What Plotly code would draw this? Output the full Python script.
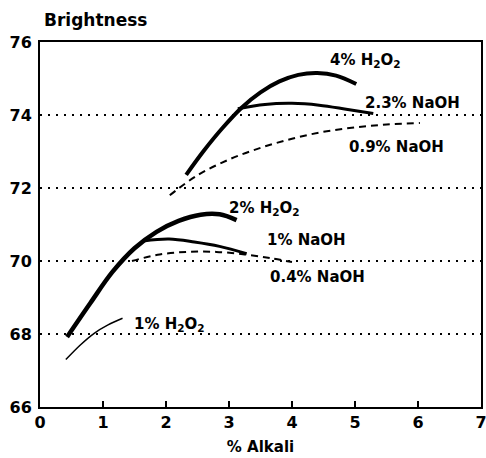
import plotly.graph_objects as go

# ---- data ----
h2o2_4_x = [2.32, 2.6, 2.9, 3.2, 3.5, 3.8, 4.1, 4.4, 4.7, 5.02]
h2o2_4_y = [72.36, 73.02, 73.65, 74.2, 74.62, 74.92, 75.1, 75.15, 75.08, 74.85]

naoh_23_x = [3.14, 3.57, 4.0, 4.43, 4.86, 5.29]
naoh_23_y = [74.17, 74.29, 74.32, 74.27, 74.16, 74.04]

naoh_09_x = [2.06, 2.5, 3.0, 3.5, 4.0, 4.5, 5.0, 5.5, 6.03]
naoh_09_y = [71.8, 72.35, 72.78, 73.1, 73.35, 73.54, 73.66, 73.74, 73.78]

h2o2_2_x = [0.43, 0.8, 1.15, 1.5, 1.85, 2.2, 2.55, 2.85, 3.12]
h2o2_2_y = [67.92, 68.85, 69.7, 70.35, 70.8, 71.1, 71.27, 71.28, 71.12]

naoh_1_x = [1.64, 2.05, 2.45, 2.85, 3.28]
naoh_1_y = [70.55, 70.6, 70.52, 70.4, 70.2]

naoh_04_x = [1.46, 1.9, 2.35, 2.8, 3.25, 3.65, 4.0]
naoh_04_y = [70.0, 70.18, 70.25, 70.25, 70.18, 70.08, 69.97]

h2o2_1_x = [0.41, 0.64, 0.86, 1.08, 1.31]
h2o2_1_y = [67.3, 67.7, 68.02, 68.25, 68.43]

label_text = ["4% H<sub>2</sub>O<sub>2</sub>", "2.3% NaOH", "0.9% NaOH",
              "2% H<sub>2</sub>O<sub>2</sub>", "1% NaOH", "0.4% NaOH",
              "1% H<sub>2</sub>O<sub>2</sub>"]
label_x = [4.57, 5.13, 4.87, 2.97, 3.57, 3.62, 1.46]
label_y = [75.5, 74.33, 73.12, 71.45, 70.58, 69.56, 68.25]

x_ticks = [0, 1, 2, 3, 4, 5, 6, 7]
y_ticks = [66, 68, 70, 72, 74, 76]

FONT = "DejaVu Sans"

fig = go.Figure()

def add(x, y, width, dash="solid"):
    fig.add_trace(go.Scatter(x=x, y=y, mode="lines",
                             line=dict(color="black", width=width, dash=dash,
                                       shape="spline", smoothing=1.0),
                             showlegend=False, hoverinfo="skip"))

add(h2o2_4_x, h2o2_4_y, 4)
add(naoh_23_x, naoh_23_y, 3)
add(naoh_09_x, naoh_09_y, 2, "7px,5px")
add(h2o2_2_x, h2o2_2_y, 4.5)
add(naoh_1_x, naoh_1_y, 3)
add(naoh_04_x, naoh_04_y, 2, "7px,5px")
add(h2o2_1_x, h2o2_1_y, 1.5)

for t, x, y in zip(label_text, label_x, label_y):
    fig.add_annotation(x=x, y=y, text=t, showarrow=False, xanchor="left",
                       yanchor="middle",
                       font=dict(family=FONT, size=15, color="black", weight="bold"))

fig.add_annotation(xref="paper", yref="paper", x=0.005, y=1.06, text="Brightness",
                   showarrow=False, xanchor="left", yanchor="middle",
                   font=dict(family=FONT, size=17, color="black", weight="bold"))

fig.update_layout(
    width=486, height=458,
    margin=dict(l=40, r=5, t=42, b=51),
    paper_bgcolor="white", plot_bgcolor="white",
    xaxis=dict(range=[0, 7], tickvals=x_ticks, showgrid=False, zeroline=False,
               automargin=False, ticklabeloverflow="allow",
               showline=True, linecolor="black", linewidth=2, mirror=True,
               ticks="inside", ticklen=6, tickwidth=1.5, tickcolor="black",
               tickfont=dict(family=FONT, size=16, color="black", weight="bold"),
               title=dict(text="% Alkali", standoff=10,
                          font=dict(family=FONT, size=15, color="black", weight="bold"))),
    yaxis=dict(range=[66, 76], tickvals=y_ticks, showgrid=True, gridcolor="black",
               gridwidth=2, griddash="2px,6px", zeroline=False, automargin=False,
               ticklabeloverflow="allow",
               showline=True, linecolor="black", linewidth=2, mirror=True,
               ticks="", ticklabelstandoff=3,
               tickfont=dict(family=FONT, size=16, color="black", weight="bold")),
)

fig.write_html("out.html")
